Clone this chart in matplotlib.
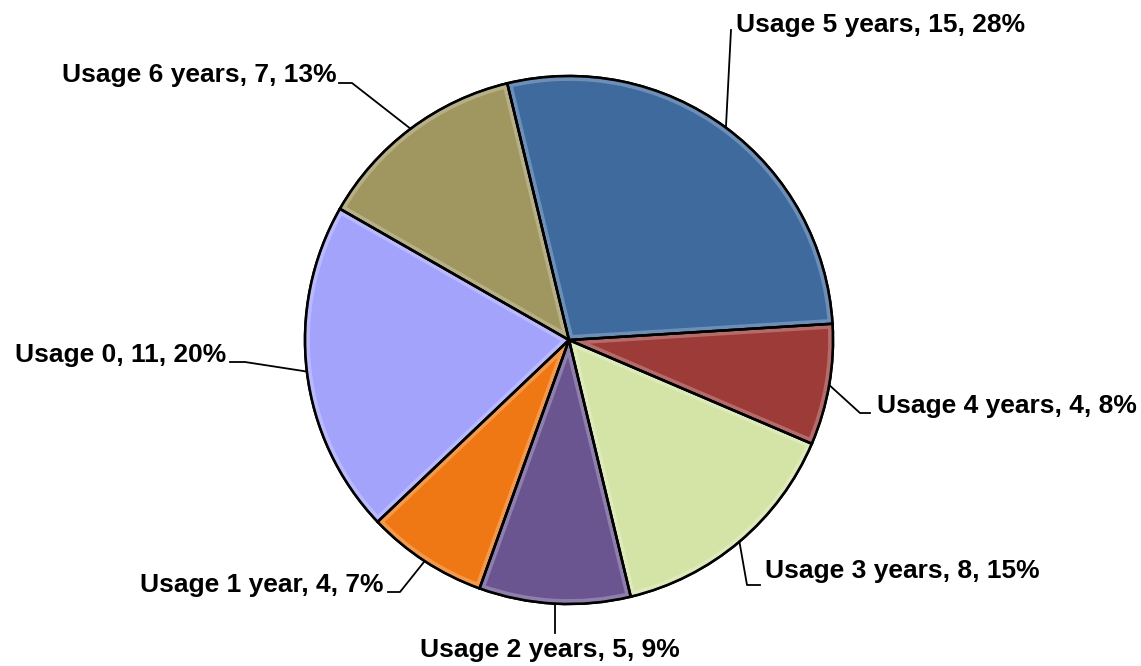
import numpy as np
import matplotlib
matplotlib.use("Agg")
import matplotlib.pyplot as plt
from matplotlib.colors import to_rgb
from matplotlib.patches import Wedge

plt.rcParams['font.family'] = ['Liberation Sans', 'DejaVu Sans']

# Data
labels = ['Usage 0', 'Usage 1 year', 'Usage 2 years', 'Usage 3 years',
          'Usage 4 years', 'Usage 5 years', 'Usage 6 years']
counts = [11, 4, 5, 8, 4, 15, 7]
percents = [20, 7, 9, 15, 8, 28, 13]  # as shown on the chart
colors = ['#A3A3FB', '#F07814', '#6B5591', '#D4E4A6',
          '#9C3B38', '#3E6A9E', '#A09660']

W, H = 1141, 666
fig = plt.figure(figsize=(W / 100, H / 100), dpi=100)
ax = fig.add_axes([0, 0, 1, 1])

cx, cy, r = 569, H - 340, 264

wedges, _ = ax.pie(counts, colors=colors, startangle=150.2, counterclock=True,
                   center=(cx, cy), radius=r, frame=True,
                   wedgeprops=dict(edgecolor='black', linewidth=1.8))

# simple bevel: lighter band inside every wedge edge, then the black outline
for w, c in zip(wedges, colors):
    light = tuple(min(1, v + (1 - v) * 0.45) for v in to_rgb(c))
    b = Wedge((cx, cy), r, w.theta1, w.theta2, facecolor='none',
              edgecolor=light, linewidth=7, alpha=0.55, zorder=2)
    ax.add_patch(b)
    b.set_clip_path(w)
    e = Wedge((cx, cy), r, w.theta1, w.theta2, facecolor='none',
              edgecolor='black', linewidth=1.8, zorder=3)
    ax.add_patch(e)

ax.set_xlim(0, W)
ax.set_ylim(0, H)
ax.set_aspect('equal')
ax.axis('off')

# label layout (image pixel coords): text x, baseline y, align, elbow, end
layout = [
    (226, 362, 'right', (245, 362), (230, 362)),
    (384, 592, 'right', (400, 592), (388, 592)),
    (550, 657, 'center', None, (None, 633)),
    (765, 578, 'left', (747, 585), (760, 585)),
    (877, 413, 'left', (860, 413), (870, 413)),
    (736, 32, 'left', (731, 30), (731, 30)),
    (337, 82, 'right', (352, 83), (339, 83)),
]

for w, lab, n, pct, (tx, ty, ha, elbow, end) in zip(wedges, labels, counts,
                                                     percents, layout):
    mid = np.deg2rad((w.theta1 + w.theta2) / 2)
    sx, sy = cx + r * np.cos(mid), cy + r * np.sin(mid)
    if elbow is None:
        xs = [sx, sx]
        ys = [sy, H - end[1]]
    else:
        xs = [sx, elbow[0], end[0]]
        ys = [sy, H - elbow[1], H - end[1]]
    ax.plot(xs, ys, color='black', lw=1.3, zorder=4)
    ax.text(tx, H - ty, f"{lab}, {n}, {pct}%", ha=ha, va='baseline',
            fontsize=19, fontweight='bold', color='black')

fig.savefig('out.png', dpi=100)
